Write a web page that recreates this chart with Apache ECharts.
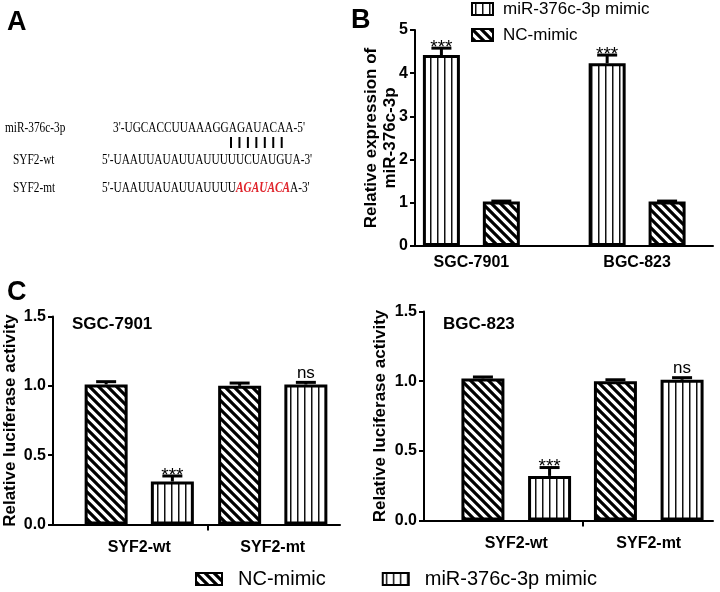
<!DOCTYPE html>
<html><head><meta charset="utf-8">
<script src="https://cdn.jsdelivr.net/npm/echarts@6/dist/echarts.min.js"></script>
<style>html,body{margin:0;padding:0;background:#fff}#c{width:720px;height:592px}</style>
</head><body><div id="c"></div>
<script>
// ---------------- DATA ----------------
const nameMimic = 'miR-376c-3p mimic';
const nameNC = 'NC-mimic';

// Panel B
const catsB = ['SGC-7901', 'BGC-823'];
const bMimic = [4.42, 4.23];
const bMimicErr = [0.16, 0.19];
const bMimicSig = ['***', '***'];
const bNC = [1.03, 1.03];
const bNCErr = [0.01, 0.01];
const bNCSig = ['', ''];
const bAxis = { min: 0, max: 5, interval: 1 };
const bYName = 'Relative expression of\nmiR-376c-3p';

// Panel C
const catsC = ['SYF2-wt', 'SYF2-mt'];
const cSgcNC = [1.01, 1.00];
const cSgcNCErr = [0.02, 0.02];
const cSgcNCSig = ['', ''];
const cSgcMimic = [0.31, 1.01];
const cSgcMimicErr = [0.04, 0.015];
const cSgcMimicSig = ['***', 'ns'];
const cBgcNC = [1.02, 1.00];
const cBgcNCErr = [0.01, 0.01];
const cBgcNCSig = ['', ''];
const cBgcMimic = [0.32, 1.01];
const cBgcMimicErr = [0.06, 0.015];
const cBgcMimicSig = ['***', 'ns'];
const cAxis = { min: 0, max: 1.5, interval: 0.5 };
const cYName = 'Relative luciferase activity';
const cellLines = ['SGC-7901', 'BGC-823'];

// Panel A
const panelLetters = ['A', 'B', 'C'];
const seqNames = ['miR-376c-3p', 'SYF2-wt', 'SYF2-mt'];
const seqMir = "3'-UGCACCUUAAAGGAGAUACAA-5'";
const seqWt = "5'-UAAUUAUAUUAUUUUUCUAUGUA-3'";
const seqMt = ["5'-UAAUUAUAUUAUUUU", 'AGAUACA', "A-3'"];
const pairCount = 7;

// ---------------- STYLE / LAYOUT ----------------
const SANS = "Arial, 'Liberation Sans', sans-serif";
const SERIF = "'Times New Roman', 'Liberation Serif', serif";

function diagTile() {
  const s = 9, c = document.createElement('canvas');
  c.width = s; c.height = s;
  const g = c.getContext('2d');
  g.fillStyle = '#fff'; g.fillRect(0, 0, s, s);
  g.strokeStyle = '#000'; g.lineWidth = 3.2; g.lineCap = 'square';
  g.beginPath();
  for (const o of [-s, 0, s]) { g.moveTo(o - 2, -2); g.lineTo(o + s + 2, s + 2); }
  g.stroke();
  return c;
}
function vertTile() {
  const w = 7, h = 4, c = document.createElement('canvas');
  c.width = w; c.height = h;
  const g = c.getContext('2d');
  g.fillStyle = '#fff'; g.fillRect(0, 0, w, h);
  g.fillStyle = '#111'; g.fillRect(3, 0, 1, h);
  g.fillStyle = '#888'; g.fillRect(4, 0, 1, h);
  return c;
}
const patDiag = { image: diagTile(), repeat: 'repeat' };
const patVert = { image: vertTile(), repeat: 'repeat' };
const styleNC = { color: patDiag, borderColor: '#000', borderWidth: 3 };
const styleMimic = { color: patVert, borderColor: '#000', borderWidth: 3 };

// layouts: frame (visible axes) and bar area
const L = {
  B: { frame: { left: 415, top: 30, width: 298, height: 216 }, bars: { left: 388.5, top: 30, width: 358, height: 216 }, bw: 37, gap: 0.62, lblMargin: 9 },
  C1: { frame: { left: 50, top: 316.5, width: 290, height: 208 }, bars: { left: 72.5, top: 316.5, width: 267, height: 208 }, bw: 43, gap: 0.54, lblMargin: 15 },
  C2: { frame: { left: 424, top: 311.5, width: 289, height: 209 }, bars: { left: 450, top: 311.5, width: 265, height: 209 }, bw: 43, gap: 0.55, lblMargin: 15 }
};

const grids = [], xAxes = [], yAxes = [], series = [];

function addPanel(key, cats, axisCfg, yName, nameGap, fmt, midTick, bars) {
  const lay = L[key];
  const gf = grids.length;
  grids.push(Object.assign({ containLabel: false }, lay.frame));
  grids.push(Object.assign({ containLabel: false }, lay.bars));
  const gb = gf + 1;
  const tickFrac = (lay.bars.left + lay.bars.width / 2 - lay.frame.left) / lay.frame.width;
  xAxes.push({
    type: 'value', gridIndex: gf, min: 0, max: 1,
    axisLine: { show: true, lineStyle: { color: '#000', width: 2 } },
    axisTick: midTick ? { show: true, customValues: [tickFrac], length: 6, lineStyle: { color: '#000', width: 2 } } : { show: false },
    axisLabel: { show: false }, splitLine: { show: false }
  });
  yAxes.push({
    type: 'value', gridIndex: gf, min: axisCfg.min, max: axisCfg.max, interval: axisCfg.interval,
    axisLine: { show: true, lineStyle: { color: '#000', width: 2 } },
    axisTick: { show: true, length: 5, lineStyle: { color: '#000', width: 2 } },
    axisLabel: { color: '#000', fontFamily: SANS, fontWeight: 'bold', fontSize: 16, margin: 7, formatter: fmt },
    splitLine: { show: false },
    name: yName, nameLocation: 'middle', nameRotate: 90, nameGap: nameGap, nameMoveOverlap: false,
    nameTextStyle: { color: '#000', fontFamily: SANS, fontWeight: 'bold', fontSize: 17, lineHeight: 19 }
  });
  const xi = xAxes.length;
  xAxes.push({
    type: 'category', gridIndex: gb, data: cats,
    axisLine: { show: false }, axisTick: { show: false },
    axisLabel: { color: '#000', fontFamily: SANS, fontWeight: 'bold', fontSize: 16, margin: lay.lblMargin }
  });
  const yi = yAxes.length;
  yAxes.push({ type: 'value', gridIndex: gb, min: axisCfg.min, max: axisCfg.max, show: false, splitLine: { show: false } });
  bars.forEach((b) => {
    series.push({
      type: 'bar', name: b.name, xAxisIndex: xi, yAxisIndex: yi, data: b.vals,
      barWidth: lay.bw, barGap: (lay.gap * 100) + '%', itemStyle: b.style, silent: true, z: 2
    });
  });
  bars.forEach((b, k) => {
    const side = k === 0 ? -1 : 1;
    const sigs = b.sigs;
    series.push({
      type: 'custom', xAxisIndex: xi, yAxisIndex: yi, silent: true, z: 5,
      data: b.vals.map((v, i) => [i, v, b.errs[i]]),
      renderItem: function (params, api) {
        const i = api.value(0), v = api.value(1), e = api.value(2);
        const base = api.coord([i, v]);
        const top = api.coord([i, v + e]);
        const x = base[0] + side * (lay.bw * (1 + lay.gap)) / 2;
        const ch = [
          { type: 'line', shape: { x1: x, y1: base[1], x2: x, y2: top[1] }, style: { stroke: '#000', lineWidth: 3 } },
          { type: 'line', shape: { x1: x - 10, y1: top[1], x2: x + 10, y2: top[1] }, style: { stroke: '#000', lineWidth: 3 } }
        ];
        const s = sigs[params.dataIndex];
        if (s) {
          const isNs = s === 'ns';
          const dy = isNs ? -1 : 9;
          ch.push({ type: 'text', x: x, y: top[1] + dy, style: { text: s, textAlign: 'center', textVerticalAlign: 'bottom', font: (isNs ? 17 : 19) + 'px ' + SANS, fill: '#000' } });
        }
        return { type: 'group', children: ch };
      }
    });
  });
}

addPanel('B', catsB, bAxis, bYName, 15, v => String(v), false, [
  { name: nameMimic, vals: bMimic, errs: bMimicErr, sigs: bMimicSig, style: styleMimic },
  { name: nameNC, vals: bNC, errs: bNCErr, sigs: bNCSig, style: styleNC }
]);
addPanel('C1', catsC, cAxis, cYName, 33, v => v.toFixed(1), true, [
  { name: nameNC, vals: cSgcNC, errs: cSgcNCErr, sigs: cSgcNCSig, style: styleNC },
  { name: nameMimic, vals: cSgcMimic, errs: cSgcMimicErr, sigs: cSgcMimicSig, style: styleMimic }
]);
addPanel('C2', catsC, cAxis, cYName, 34, v => v.toFixed(1), true, [
  { name: nameNC, vals: cBgcNC, errs: cBgcNCErr, sigs: cBgcNCSig, style: styleNC },
  { name: nameMimic, vals: cBgcMimic, errs: cBgcMimicErr, sigs: cBgcMimicSig, style: styleMimic }
]);

const letterPos = [[7, 9], [351, 7], [7, 279]];
const titles = panelLetters.map((t, i) => ({
  text: t, left: letterPos[i][0], top: letterPos[i][1], padding: 0,
  textStyle: { fontFamily: SANS, fontWeight: 'bold', fontSize: 27, color: '#000' }
}));
const cellPos = [[72, 316], [443, 316]];
cellLines.forEach((t, i) => titles.push({
  text: t, left: cellPos[i][0], top: cellPos[i][1], padding: 0,
  textStyle: { fontFamily: SANS, fontWeight: 'bold', fontSize: 17, color: '#000' }
}));

// panel A graphics
const SX = 0.78;
const FS = '14.5px ';
const seqRowsY = [128, 160, 188];
const nameX = [5, 13, 13];
const graphics = [];
seqNames.forEach((n, i) => graphics.push({
  type: 'text', x: nameX[i], y: seqRowsY[i], scaleX: SX, silent: true,
  style: { text: n, font: FS + SERIF, fill: '#000', textVerticalAlign: 'middle' }
}));
graphics.push({ type: 'text', x: 113, y: seqRowsY[0], scaleX: SX, silent: true,
  style: { text: seqMir, font: FS + SERIF, fill: '#000', textVerticalAlign: 'middle' } });
graphics.push({ type: 'text', x: 102, y: seqRowsY[1], scaleX: SX, silent: true,
  style: { text: seqWt, font: FS + SERIF, fill: '#000', textVerticalAlign: 'middle' } });
graphics.push({ type: 'text', x: 102, y: seqRowsY[2], scaleX: SX, silent: true,
  style: { text: '{n|' + seqMt[0] + '}{r|' + seqMt[1] + '}{n|' + seqMt[2] + '}', textVerticalAlign: 'middle',
    rich: { n: { font: FS + SERIF, fill: '#000', color: '#000' },
            r: { font: 'italic bold ' + FS + SERIF, fill: '#e0242c', color: '#e0242c' } } } });
for (let k = 0; k < pairCount; k++) {
  const x = 231 + k * 8.45;
  graphics.push({ type: 'line', silent: true, shape: { x1: x, y1: 137, x2: x, y2: 148 }, style: { stroke: '#000', lineWidth: 2 } });
}

const option = {
  backgroundColor: '#fff',
  animation: false,
  title: titles,
  grid: grids, xAxis: xAxes, yAxis: yAxes, series: series,
  legend: [
    { orient: 'vertical', left: 471, top: 0, padding: 0, itemWidth: 21, itemHeight: 12, itemGap: 8, icon: 'rect',
      data: [nameMimic, nameNC], selectedMode: false,
      textStyle: { fontFamily: SANS, fontSize: 17, color: '#000', lineHeight: 18, padding: [0, 0, 0, 5] } },
    { orient: 'horizontal', left: 195, top: 569, padding: 0, itemWidth: 26, itemHeight: 12, itemGap: 56, icon: 'rect',
      data: [nameNC, nameMimic], selectedMode: false,
      textStyle: { fontFamily: SANS, fontSize: 20, color: '#000', padding: [0, 0, 0, 11] } }
  ],
  graphic: graphics
};
const chart = echarts.init(document.getElementById('c'), null, { renderer: 'canvas' });
chart.setOption(option);
</script></body></html>
